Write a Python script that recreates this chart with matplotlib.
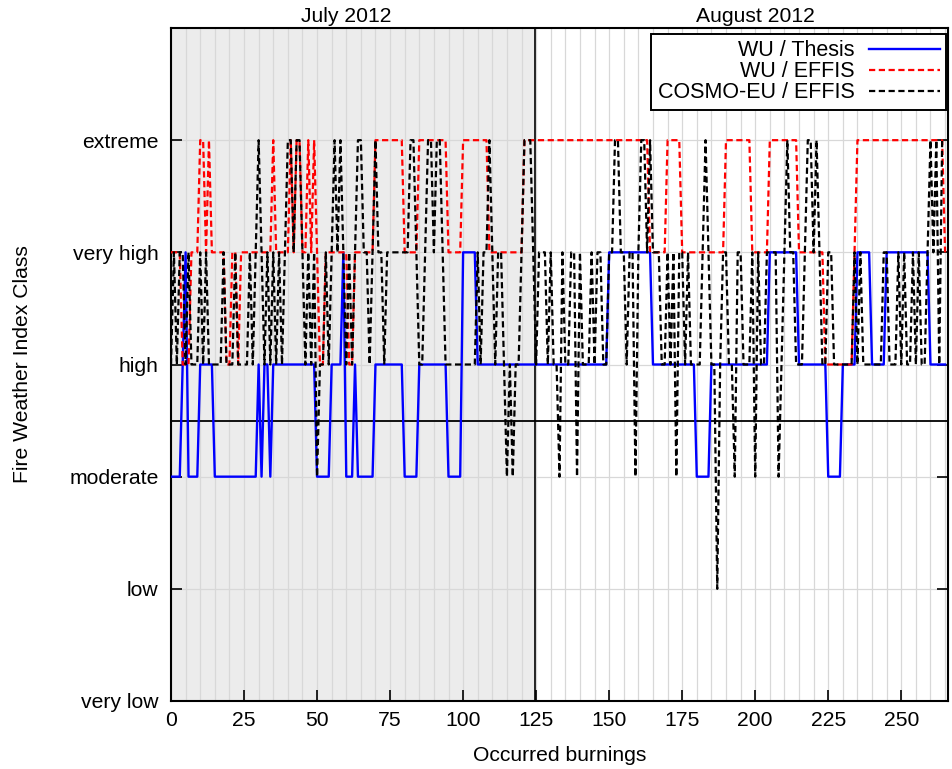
import matplotlib
matplotlib.use("Agg")
import matplotlib.pyplot as plt
import numpy as np

plt.rcParams['font.family'] = ['Liberation Sans', 'DejaVu Sans']

class_labels = ["very low", "low", "moderate", "high", "very high", "extreme"]
x_ticks = [0, 25, 50, 75, 100, 125, 150, 175, 200, 225, 250]
month_labels = ["July 2012", "August 2012"]
month_centers = [60, 200]
month_boundary = 124.5
series_names = ["WU / Thesis", "WU / EFFIS", "COSMO-EU / EFFIS"]

wu_thesis = [
    2, 2, 2, 2, 3, 4, 2, 2, 2, 2,
    3, 3, 3, 3, 3, 2, 2, 2, 2, 2,
    2, 2, 2, 2, 2, 2, 2, 2, 2, 2,
    3, 2, 3, 3, 2, 3, 3, 3, 3, 3,
    3, 3, 3, 3, 3, 3, 3, 3, 3, 3,
    2, 2, 2, 2, 2, 3, 3, 3, 3, 4,
    2, 2, 2, 3, 2, 2, 2, 2, 2, 2,
    3, 3, 3, 3, 3, 3, 3, 3, 3, 3,
    2, 2, 2, 2, 2, 3, 3, 3, 3, 3,
    3, 3, 3, 3, 3, 2, 2, 2, 2, 2,
    4, 4, 4, 4, 4, 3, 3, 3, 3, 3,
    3, 3, 3, 3, 3, 3, 3, 3, 3, 3,
    3, 3, 3, 3, 3, 3, 3, 3, 3, 3,
    3, 3, 3, 3, 3, 3, 3, 3, 3, 3,
    3, 3, 3, 3, 3, 3, 3, 3, 3, 3,
    4, 4, 4, 4, 4, 4, 4, 4, 4, 4,
    4, 4, 4, 4, 4, 3, 3, 3, 3, 3,
    3, 3, 3, 3, 3, 3, 3, 3, 3, 3,
    2, 2, 2, 2, 2, 3, 3, 3, 3, 3,
    3, 3, 3, 3, 3, 3, 3, 3, 3, 3,
    3, 3, 3, 3, 3, 4, 4, 4, 4, 4,
    4, 4, 4, 4, 4, 3, 3, 3, 3, 3,
    3, 3, 3, 3, 3, 2, 2, 2, 2, 2,
    3, 3, 3, 3, 3, 4, 4, 4, 4, 4,
    3, 3, 3, 3, 3, 4, 4, 4, 4, 4,
    4, 4, 4, 4, 4, 4, 4, 4, 4, 4,
    3, 3, 3, 3, 3, 3,
]

wu_effis = [
    4, 4, 4, 4, 3, 3, 3, 4, 4, 4,
    5, 5, 4, 5, 4, 4, 4, 4, 4, 3,
    3, 4, 4, 3, 4, 4, 4, 4, 4, 4,
    4, 4, 4, 4, 4, 5, 4, 4, 4, 4,
    4, 5, 4, 5, 5, 4, 4, 5, 4, 5,
    4, 3, 3, 4, 4, 4, 4, 4, 4, 4,
    4, 3, 3, 4, 4, 4, 4, 4, 4, 4,
    5, 5, 5, 5, 5, 5, 5, 5, 5, 5,
    4, 4, 4, 4, 4, 5, 5, 5, 5, 5,
    5, 5, 5, 5, 5, 4, 4, 4, 4, 4,
    5, 5, 5, 5, 5, 5, 5, 5, 5, 4,
    4, 4, 4, 4, 4, 4, 4, 4, 4, 4,
    4, 5, 5, 5, 5, 5, 5, 5, 5, 5,
    5, 5, 5, 5, 5, 5, 5, 5, 5, 5,
    5, 5, 5, 5, 5, 5, 5, 5, 5, 5,
    5, 5, 5, 5, 5, 5, 5, 5, 5, 5,
    5, 5, 5, 5, 4, 4, 4, 4, 4, 4,
    5, 5, 5, 5, 5, 4, 4, 4, 4, 4,
    4, 4, 4, 4, 4, 4, 4, 4, 4, 4,
    5, 5, 5, 5, 5, 5, 5, 5, 5, 4,
    4, 4, 4, 4, 4, 5, 5, 5, 5, 5,
    5, 5, 5, 5, 5, 4, 4, 4, 4, 4,
    4, 4, 4, 4, 3, 3, 3, 3, 3, 3,
    3, 3, 3, 3, 4, 5, 5, 5, 5, 5,
    5, 5, 5, 5, 5, 5, 5, 5, 5, 5,
    5, 5, 5, 5, 5, 5, 5, 5, 5, 5,
    5, 5, 5, 5, 5, 4,
]

cosmo_effis = [
    3, 4, 3, 4, 4, 3, 4, 3, 3, 3,
    4, 3, 4, 3, 3, 3, 3, 3, 4, 3,
    3, 3, 4, 3, 3, 3, 3, 4, 3, 4,
    5, 4, 3, 4, 3, 4, 3, 4, 3, 4,
    5, 5, 4, 5, 5, 4, 3, 4, 3, 4,
    2, 3, 3, 4, 3, 4, 5, 4, 5, 4,
    3, 4, 3, 4, 5, 5, 4, 4, 3, 4,
    5, 4, 4, 3, 4, 4, 4, 4, 4, 4,
    4, 4, 5, 5, 4, 3, 3, 4, 5, 5,
    4, 5, 5, 4, 3, 3, 3, 3, 3, 3,
    3, 3, 3, 3, 3, 4, 3, 4, 4, 5,
    4, 3, 4, 4, 3, 2, 3, 2, 3, 3,
    4, 5, 5, 5, 4, 3, 4, 4, 4, 3,
    4, 3, 3, 2, 4, 3, 3, 4, 4, 2,
    4, 3, 3, 3, 4, 3, 4, 4, 3, 3,
    4, 4, 5, 5, 4, 4, 3, 4, 4, 2,
    4, 5, 5, 4, 5, 4, 4, 4, 3, 3,
    4, 3, 4, 2, 4, 4, 3, 4, 3, 3,
    3, 3, 4, 5, 4, 3, 3, 1, 3, 4,
    4, 3, 3, 2, 4, 4, 3, 3, 3, 4,
    2, 4, 3, 3, 4, 4, 4, 4, 2, 3,
    4, 5, 4, 4, 3, 3, 3, 4, 5, 5,
    4, 5, 4, 3, 3, 4, 4, 3, 3, 3,
    3, 3, 3, 3, 4, 3, 4, 3, 3, 3,
    3, 3, 3, 3, 4, 4, 3, 3, 3, 4,
    3, 4, 3, 3, 4, 3, 4, 3, 3, 4,
    5, 4, 5, 3, 5, 5,
]

x = np.arange(len(wu_thesis))

W, H = 952, 769
fig = plt.figure(figsize=(W / 100, H / 100), dpi=100)
ax = fig.add_axes([171 / W, 1 - 701 / H, (948 - 171) / W, (701 - 28) / H])

FS = 15.2
ax.axvspan(0, month_boundary, color='#ececec', zorder=0, lw=0)
ax.set_axisbelow(True)

ax.set_xlim(0, 266)
ax.set_ylim(0, 6)
ax.set_xticks(x_ticks)
ax.set_xticks(np.arange(0, 267, 5), minor=True)
ax.set_yticks(range(len(class_labels)))
ax.set_yticklabels(class_labels)
ax.grid(True, which='both', axis='x', color='#d8d8d8', lw=0.9)
ax.grid(True, which='major', axis='y', color='#d8d8d8', lw=0.9)
ax.tick_params(axis='both', which='major', direction='in', length=8, width=1.2,
               labelsize=FS, pad=7)
ax.tick_params(axis='y', which='major', right=True, pad=9)
ax.tick_params(axis='x', which='minor', direction='in', length=0)
for s in ax.spines.values():
    s.set_linewidth(1.5)

ax.axvline(month_boundary, color='black', lw=1.2, zorder=2)
ax.axhline(2.5, color='black', lw=1.3, zorder=2)

ax.plot(x, wu_thesis, color='#0000ff', lw=1.7, label=series_names[0], zorder=3)
ax.plot(x, wu_effis, color='#ff0000', lw=1.6, dashes=(2.8, 1.6),
        label=series_names[1], zorder=4)
ax.plot(x, cosmo_effis, color='black', lw=1.6, dashes=(2.8, 1.6),
        label=series_names[2], zorder=5)

for lab, cx in zip(month_labels, month_centers):
    ax.annotate(lab, xy=(cx, 1), xycoords=('data', 'axes fraction'),
                xytext=(0, 1.5), textcoords='offset points',
                ha='center', va='bottom', fontsize=FS)

ax.set_xlabel("Occurred burnings", fontsize=FS, labelpad=12)
ax.set_ylabel("Fire Weather Index Class", fontsize=FS, labelpad=27)

leg = ax.legend(loc='upper right', bbox_to_anchor=(946 / W, 1 - 34 / H),
                bbox_transform=fig.transFigure, borderaxespad=0,
                markerfirst=False, fontsize=15.5, frameon=True, fancybox=False,
                framealpha=1, edgecolor='black', handlelength=3.3,
                handletextpad=0.65, labelspacing=0.0, borderpad=0.3)
leg.get_frame().set_linewidth(1.4)

fig.savefig("out.png", dpi=100)
